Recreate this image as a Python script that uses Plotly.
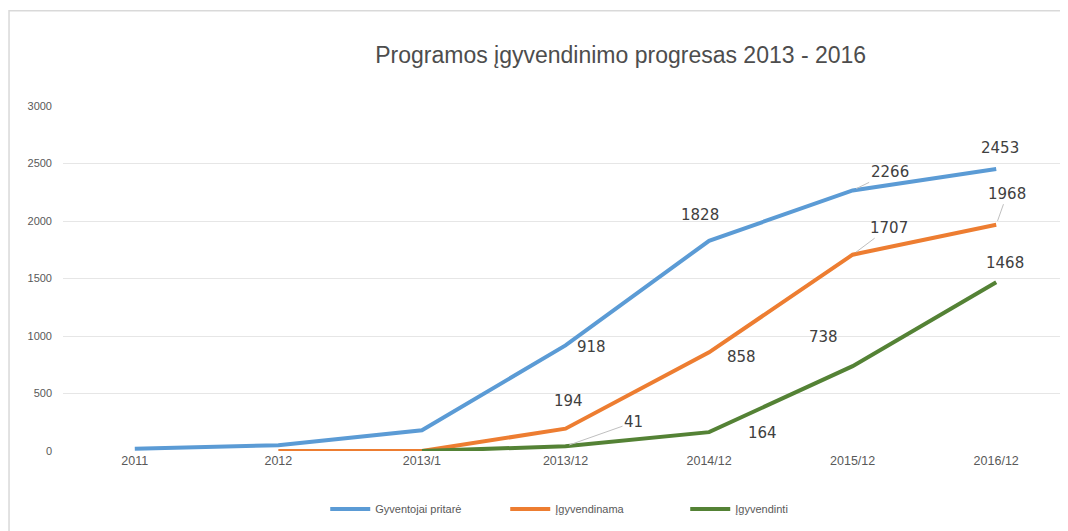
import plotly.graph_objects as go

categories = ["2011", "2012", "2013/1", "2013/12", "2014/12", "2015/12", "2016/12"]
pritare = [20, 50, 180, 918, 1828, 2266, 2453]
igyvendinama = [None, 0, 0, 194, 858, 1707, 1968]
igyvendinti = [None, None, 0, 41, 164, 738, 1468]

series_names = ["Gyventojai pritarė", "Įgyvendinama", "Įgyvendinti"]
colors = ["#5B9BD5", "#ED7D31", "#548235"]

# labelled points: (series index, category index, ax, ay, leader)
labels = [
    (0, 3, 26, 2, False),
    (0, 4, -9, -26, False),
    (0, 5, 37, -18, True),
    (0, 6, 4, -21, False),
    (1, 3, 3, -28, False),
    (1, 4, 32, 5, False),
    (1, 5, 36, -27, True),
    (1, 6, 11, -31, True),
    (2, 3, 68, -24, True),
    (2, 4, 53, 1, False),
    (2, 5, -29, -29, False),
    (2, 6, 9, -19, False),
]

all_series = [pritare, igyvendinama, igyvendinti]

fig = go.Figure()
for name, vals, col in zip(series_names, all_series, colors):
    fig.add_trace(go.Scatter(
        x=categories, y=vals, name=name, mode="lines",
        line=dict(color=col, width=4), connectgaps=False,
    ))

for si, ci, ax, ay, leader in labels:
    fig.add_annotation(
        x=categories[ci], y=all_series[si][ci], text=str(all_series[si][ci]),
        showarrow=True, ax=ax, ay=ay, arrowhead=0, arrowwidth=1,
        arrowcolor="#BFBFBF" if leader else "rgba(0,0,0,0)",
        standoff=4 if leader else 0,
        font=dict(family="DejaVu Sans", size=15, color="#404040"),
    )

fig.add_shape(type="rect", xref="paper", yref="paper",
              x0=-0.0537, x1=1.02, y0=-0.3, y1=1.276,
              line=dict(color="#D9D9D9", width=1.5), layer="below")

fig.update_layout(
    width=1060, height=523,
    margin=dict(l=55, r=0, t=98, b=80),
    paper_bgcolor="white", plot_bgcolor="white",
    title=dict(text="Programos įgyvendinimo progresas 2013 - 2016",
               x=0.578, xref="container", y=0.91, yref="container",
               xanchor="center", yanchor="middle",
               font=dict(family="Liberation Sans", size=23, color="#4D4D4D")),
    xaxis=dict(type="category", range=[-0.5, 6.5], showgrid=False,
               showline=False, zeroline=False, ticks="",
               tickfont=dict(family="Liberation Sans", size=12.5, color="#595959")),
    yaxis=dict(range=[0, 3000], dtick=500, showgrid=True, gridcolor="#E6E6E6",
               gridwidth=1, zeroline=False, showline=False, ticks="",
               tickfont=dict(family="Liberation Sans", size=11, color="#595959"),
               ticklabelstandoff=10),
    legend=dict(orientation="h", x=0.554, xref="container", xanchor="center",
                y=0.042, yref="container", yanchor="middle",
                font=dict(family="Liberation Sans", size=11, color="#595959"),
                itemwidth=40, entrywidth=125),
    showlegend=True,
)

fig.write_html("out.html")
